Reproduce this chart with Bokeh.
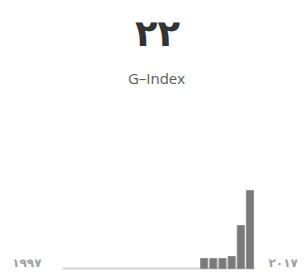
from bokeh.plotting import figure
from bokeh.models import Range1d
from bokeh.embed import file_html
from bokeh.resources import INLINE
from bokeh.core.properties import value

# data
years = [2012, 2013, 2014, 2015, 2016, 2017]
counts = [10, 10, 10, 12, 43, 78]
first_year = 1997
last_year = 2017
g_index = "۲۲"
index_name = "G–Index"
start_label = "۱۹۹۷"
end_label = "۲۰۱۷"

W, H = 305, 272
sx = 192 / (last_year - first_year + 1)   # px per year
sy = 1.0                                   # px per unit
x0 = (first_year - 0.5) - 62 / sx
base_y = 268                               # picture y of the zero line
y0 = -(H - base_y) / sy

def px(pic_x):
    return x0 + pic_x / sx

def py(pic_y):
    return y0 + (H - pic_y) / sy

p = figure(width=W, height=H, output_backend="svg", toolbar_location=None,
           title=None,
           x_range=Range1d(x0, x0 + W / sx), y_range=Range1d(y0, y0 + H / sy),
           min_border=0)
p.axis.visible = False
p.grid.visible = False
p.outline_line_color = None
p.background_fill_color = "white"

# baseline
p.segment(x0=[first_year - 0.5], y0=[0], x1=[last_year + 0.5], y1=[0],
          line_color="#d2d2d2", line_width=2)

# bars
p.vbar(x=years, top=counts, bottom=0, width=0.78,
       fill_color="#7a7a7a", line_color="#8e8e8e", line_width=1)

# texts
p.text(x=[px(157)], y=[py(33)], text=[g_index], text_align="center",
       text_baseline="middle", text_font=value("DejaVu Sans"),
       text_font_style="bold", text_font_size="37px", text_color="#333333")
p.text(x=[px(156)], y=[py(77)], text=[index_name], text_align="center",
       text_baseline="middle", text_font=value("Open Sans"),
       text_font_size="15px", text_color="#5a5a5a")
p.text(x=[px(41)], y=[py(262)], text=[start_label], text_align="right",
       text_baseline="middle", text_font=value("DejaVu Sans"),
       text_font_style="bold", text_font_size="12px", text_color="#a0a0a0")
p.text(x=[px(268)], y=[py(262)], text=[end_label], text_align="left",
       text_baseline="middle", text_font=value("DejaVu Sans"),
       text_font_style="bold", text_font_size="12px", text_color="#a0a0a0")

open("out.html", "w").write(file_html(p, INLINE))
